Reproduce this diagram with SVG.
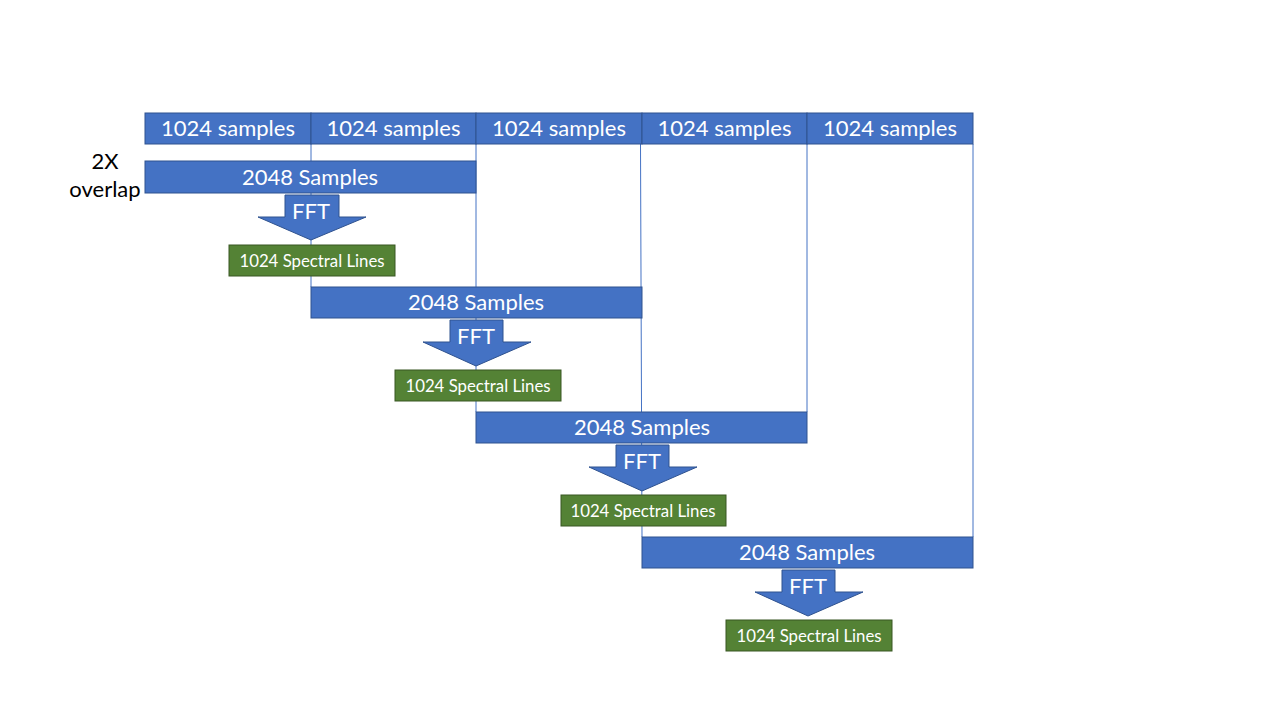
<svg xmlns="http://www.w3.org/2000/svg" width="1280" height="720" viewBox="0 0 1280 720">
<style>
.blue{fill:#4472C4;stroke:#2F528F;stroke-width:1}
.green{fill:#548235;stroke:#385723;stroke-width:1}
.t{font-family:Lato,"Open Sans",sans-serif;fill:#fff;text-anchor:middle}
.big{font-size:22px}
.small{font-size:16.8px}
.lbl{font-family:Lato,"Open Sans",sans-serif;fill:#000;text-anchor:middle;font-size:22px}
.ln{stroke:#4472C4;stroke-width:1;fill:none}
</style>
<rect width="1280" height="720" fill="#fff"/>
<g id="connectors">
<line class="ln" x1="311" y1="144" x2="311" y2="287"/>
<line class="ln" x1="476" y1="144" x2="476" y2="412"/>
<line class="ln" x1="640.5" y1="144" x2="642" y2="537"/>
<line class="ln" x1="807" y1="144" x2="807" y2="412"/>
<line class="ln" x1="973" y1="144" x2="973" y2="537"/>
</g>
<g id="row">
<rect class="blue" x="145" y="113" width="166" height="31"/>
<rect class="blue" x="311" y="113" width="165" height="31"/>
<rect class="blue" x="476" y="113" width="166" height="31"/>
<rect class="blue" x="642" y="113" width="165" height="31"/>
<rect class="blue" x="807" y="113" width="166" height="31"/>
<text class="t big" x="228" y="136">1024 samples</text>
<text class="t big" x="393.5" y="136">1024 samples</text>
<text class="t big" x="559" y="136">1024 samples</text>
<text class="t big" x="724.5" y="136">1024 samples</text>
<text class="t big" x="890" y="136">1024 samples</text>
</g>
<g id="overlap-label">
<text class="lbl" x="105" y="169">2X</text>
<text class="lbl" x="105" y="197">overlap</text>
</g>
<g id="block1">
<rect class="blue" x="145" y="161" width="331" height="32"/>
<text class="t big" x="310" y="185">2048 Samples</text>
<polygon class="blue" points="285,195 339,195 339,217 366,217 311,240 258,217 285,217"/>
<text class="t big" x="311" y="219">FFT</text>
<rect class="green" x="229" y="245" width="166" height="31"/>
<text class="t small" x="312" y="267">1024 Spectral Lines</text>
</g>
<g id="block2">
<rect class="blue" x="311" y="287" width="331" height="31"/>
<text class="t big" x="476" y="310">2048 Samples</text>
<polygon class="blue" points="450,320 503,320 503,342 531,342 476,366 423,342 450,342"/>
<text class="t big" x="476" y="344">FFT</text>
<rect class="green" x="395" y="370" width="166" height="31"/>
<text class="t small" x="478" y="392">1024 Spectral Lines</text>
</g>
<g id="block3">
<rect class="blue" x="476" y="412" width="331" height="31"/>
<text class="t big" x="642" y="435">2048 Samples</text>
<polygon class="blue" points="616,445 669,445 669,467 697,467 642,491 589,467 616,467"/>
<text class="t big" x="642" y="469">FFT</text>
<rect class="green" x="561" y="495" width="165" height="31"/>
<text class="t small" x="643" y="517">1024 Spectral Lines</text>
</g>
<g id="block4">
<rect class="blue" x="642" y="537" width="331" height="31"/>
<text class="t big" x="807" y="560">2048 Samples</text>
<polygon class="blue" points="782,570 835,570 835,592 863,592 808,616 755,592 782,592"/>
<text class="t big" x="808" y="594">FFT</text>
<rect class="green" x="726" y="620" width="166" height="31"/>
<text class="t small" x="809" y="642">1024 Spectral Lines</text>
</g>
</svg>
